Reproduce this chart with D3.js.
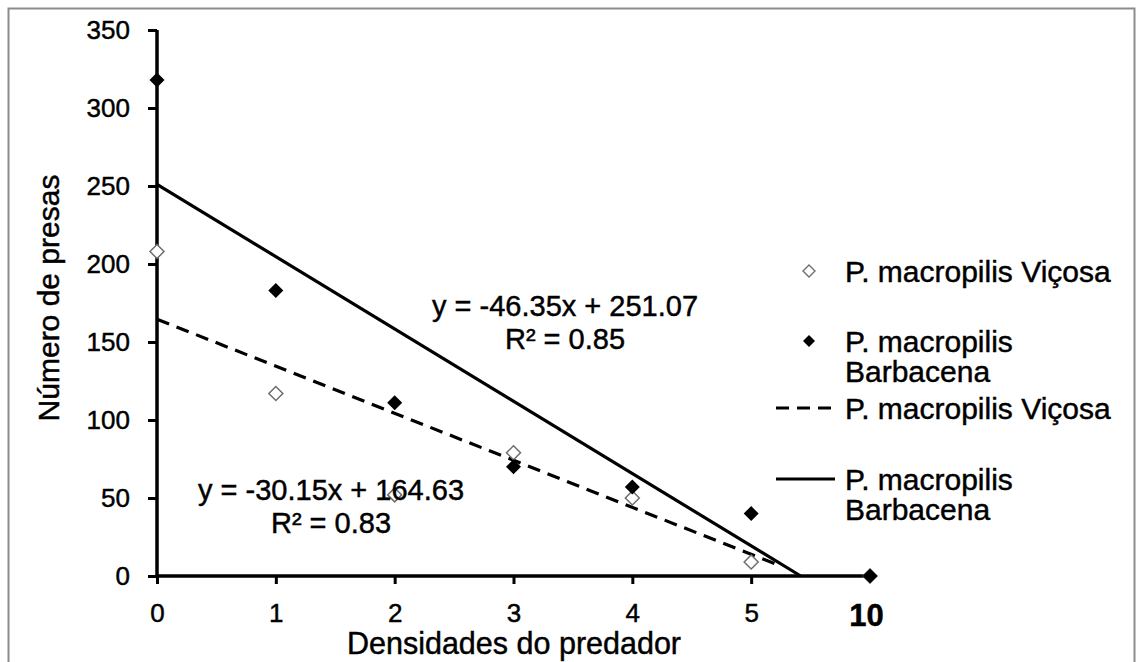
<!DOCTYPE html>
<html>
<head>
<meta charset="utf-8">
<script src="https://cdn.jsdelivr.net/npm/d3@7"></script>
<style>
body { margin:0; background:#fff; }
text { font-family: "Liberation Sans", Arial, sans-serif; fill:#000; stroke:#000; stroke-width:0.45px; }
</style>
</head>
<body>
<div id="chart"></div>
<script>
// categories on the x axis (position index -> label)
var categories = ["0", "1", "2", "3", "4", "5", "10"];
var yTicks = [0, 50, 100, 150, 200, 250, 300, 350];
// observed prey numbers
var vicosa = [208, 117, 52, 79, 50, 9, 0];
var barbacena = [318, 183, 111, 70, 57, 40, 0];
// linear trends: slope, intercept, last x drawn
var trendNames = ["P. macropilis Viçosa", "P. macropilis Barbacena"];
var trendSlope = [-30.15, -46.35];
var trendIntercept = [164.63, 251.07];
var trendEnd = [5.25, 5.417];
var trendR2 = ["0.83", "0.85"];

var W = 1139, H = 662;
var svg = d3.select('#chart').append('svg')
	.attr('width', W)
	.attr('height', H);

// outer frame
svg.append('rect')
	.attr('x', 8.5).attr('y', 8.5)
	.attr('width', 1126).attr('height', 700)
	.attr('fill', 'white')
	.attr('stroke', '#8c8c8c')
	.attr('stroke-width', 2);

var x = d3.scaleLinear().domain([0, 6]).range([157, 870]);
var y = d3.scaleLinear().domain([0, 350]).range([576, 30]);

//y axis
var yAxis = svg.append('g')
	.attr('transform', 'translate(' + x(0) + ',0)')
	.call(d3.axisLeft(y).tickValues(yTicks).tickSize(9).tickPadding(18));
yAxis.select('.domain').attr('stroke-width', 3.5).attr('d', 'M0,' + y(350) + 'V' + y(0));
yAxis.selectAll('.tick line').attr('stroke-width', 3);
yAxis.selectAll('.tick text').attr('font-size', 26).attr('font-family', '"Liberation Sans", Arial, sans-serif');

//x axis
var xAxis = svg.append('g')
	.attr('transform', 'translate(0,' + y(0) + ')')
	.call(d3.axisBottom(x).tickValues([0, 1, 2, 3, 4, 5, 6])
		.tickFormat(function(d) { return categories[d]; })
		.tickSize(8).tickPadding(20));
xAxis.select('.domain').attr('stroke-width', 3.5).attr('d', 'M' + x(0) + ',0H' + x(6));
xAxis.selectAll('.tick line').attr('stroke-width', 3)
	.attr('display', function(d) { return d == 6 ? 'none' : null; });
xAxis.selectAll('.tick text')
	.attr('font-size', function(d) { return d == 6 ? 31 : 26; })
	.attr('font-weight', function(d) { return d == 6 ? 'bold' : 'normal'; })
	.attr('dx', function(d) { return d == 6 ? -4 : 0; })
	.attr('font-family', '"Liberation Sans", Arial, sans-serif');

// axis titles
svg.append('text')
	.attr('x', 514).attr('y', 654)
	.attr('text-anchor', 'middle')
	.attr('font-size', 30.5)
	.text('Densidades do predador');
svg.append('text')
	.attr('transform', 'translate(59,298) rotate(-90)')
	.attr('text-anchor', 'middle')
	.attr('font-size', 30)
	.text('Número de presas');

// trend lines
var dashes = ['13,8', null];
trendSlope.forEach(function(m, i) {
	var b = trendIntercept[i];
	svg.append('line')
		.attr('x1', x(0)).attr('y1', y(b))
		.attr('x2', x(trendEnd[i])).attr('y2', y(Math.max(0, m * trendEnd[i] + b)))
		.attr('stroke', 'black')
		.attr('stroke-width', 3.2)
		.attr('stroke-dasharray', dashes[i]);
});

function diamond(r) { return 'M0,' + (-r) + 'L' + r + ',0L0,' + r + 'L' + (-r) + ',0Z'; }

// points
svg.append('g').selectAll('path').data(vicosa).enter().append('path')
	.attr('d', diamond(7))
	.attr('transform', function(d, i) { return 'translate(' + x(i) + ',' + y(d) + ')'; })
	.attr('fill', 'white').attr('stroke', '#6e6e6e').attr('stroke-width', 1.5);
svg.append('g').selectAll('path').data(barbacena).enter().append('path')
	.attr('d', diamond(7.5))
	.attr('transform', function(d, i) { return 'translate(' + x(i) + ',' + y(d) + ')'; })
	.attr('fill', 'black');

// equations
var eqPos = [[331, 500], [565, 316]];
trendSlope.forEach(function(m, i) {
	var t = svg.append('text')
		.attr('text-anchor', 'middle')
		.attr('font-size', 29);
	t.append('tspan').attr('x', eqPos[i][0]).attr('y', eqPos[i][1])
		.text('y = ' + m.toFixed(2) + 'x + ' + trendIntercept[i].toFixed(2));
	t.append('tspan').attr('x', eqPos[i][0]).attr('y', eqPos[i][1] + 33)
		.text('R² = ' + trendR2[i]);
});

// legend
var leg = svg.append('g');
var lx = 845;
function legText(lines, yb) {
	var t = leg.append('text').attr('font-size', 30);
	lines.forEach(function(s, k) {
		t.append('tspan').attr('x', lx).attr('y', yb + k * 30).text(s);
	});
}
leg.append('path').attr('d', diamond(6)).attr('transform', 'translate(809,271)')
	.attr('fill', 'white').attr('stroke', '#6e6e6e').attr('stroke-width', 1.4);
legText([trendNames[0]], 282);
leg.append('path').attr('d', diamond(6)).attr('transform', 'translate(809,341)')
	.attr('fill', 'black');
legText(['P. macropilis', 'Barbacena'], 352);
leg.append('line').attr('x1', 776).attr('x2', 835).attr('y1', 408).attr('y2', 408)
	.attr('stroke', 'black').attr('stroke-width', 3).attr('stroke-dasharray', '13,8');
legText([trendNames[0]], 419);
leg.append('line').attr('x1', 776).attr('x2', 835).attr('y1', 479).attr('y2', 479)
	.attr('stroke', 'black').attr('stroke-width', 3);
legText(['P. macropilis', 'Barbacena'], 490);
</script>
</body>
</html>
